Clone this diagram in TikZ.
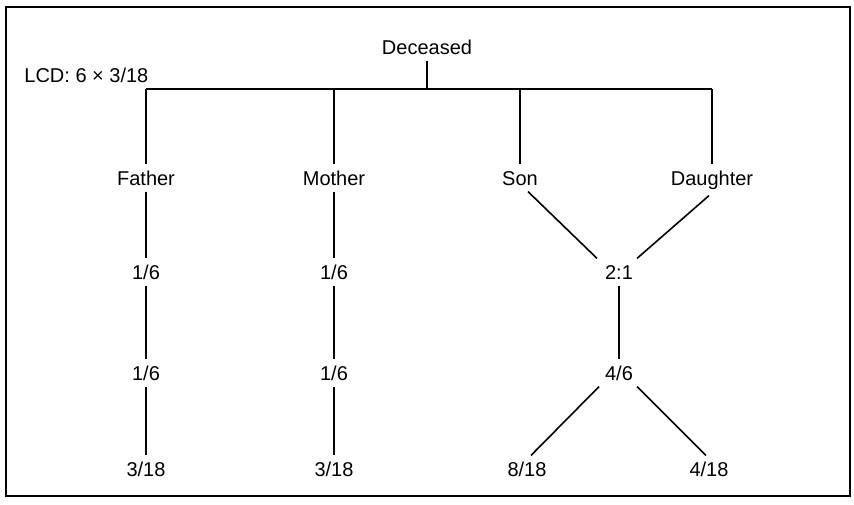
\documentclass[tikz,border=0pt]{standalone}
\usepackage{fontspec}
\setmainfont{Liberation Sans}
\begin{document}
\begin{tikzpicture}[x=0.5pt,y=-0.5pt,
  lbl/.style={inner xsep=1pt, inner ysep=3pt, text height=7.2pt, text depth=0pt, font=\fontsize{10}{12}\selectfont},
  conn/.style={line width=0.8pt},
  frame/.style={line width=1.1pt}]
\useasboundingbox (0,0) rectangle (854,504);
\draw[frame] (6,7) rectangle (850,496);
% nodes
\node[lbl] (dec) at (427,47) {Deceased};
\node[lbl, anchor=west] (lcd) at (22,75) {LCD: 6 × 3/18};
\coordinate (bar) at (427,89);
\coordinate (b1) at (146,89);
\coordinate (b2) at (334,89);
\coordinate (b3) at (520,89);
\coordinate (b4) at (712,89);
\node[lbl] (fa) at (146,178) {Father};
\node[lbl] (mo) at (334,178) {Mother};
\node[lbl] (so) at (520,178) {Son};
\node[lbl] (da) at (712,178) {Daughter};
\node[lbl] (f1) at (146,272) {1/6};
\node[lbl] (m1) at (334,272) {1/6};
\node[lbl] (r) at (619,272) {2:1};
\node[lbl] (f2) at (146,373) {1/6};
\node[lbl] (m2) at (334,373) {1/6};
\node[lbl] (q) at (619,373) {4/6};
\node[lbl] (f3) at (146,469) {3/18};
\node[lbl] (m3) at (334,469) {3/18};
\node[lbl] (s3) at (527,469) {8/18};
\node[lbl] (d3) at (709,469) {4/18};
% connectors
\draw[conn] (dec.south) -- (bar);
\draw[conn] (b1) -- (b4);
\draw[conn] (b1) -- (fa.north);
\draw[conn] (b2) -- (mo.north);
\draw[conn] (b3) -- (so.north);
\draw[conn] (b4) -- (da.north);
\draw[conn] (fa.south) -- (f1.north);
\draw[conn] (f1.south) -- (f2.north);
\draw[conn] (f2.south) -- (f3.north);
\draw[conn] (mo.south) -- (m1.north);
\draw[conn] (m1.south) -- (m2.north);
\draw[conn] (m2.south) -- (m3.north);
\draw[conn] ([xshift=4pt]so.south) -- ([xshift=-11pt]r.north);
\draw[conn] ([xshift=-1.5pt,yshift=-2pt]da.south) -- ([xshift=9pt]r.north);
\draw[conn] (r.south) -- (q.north);
\draw[conn] ([xshift=-10pt]q.south) -- ([xshift=2pt]s3.north);
\draw[conn] ([xshift=9pt]q.south) -- ([xshift=-1.5pt]d3.north);
\end{tikzpicture}
\end{document}
